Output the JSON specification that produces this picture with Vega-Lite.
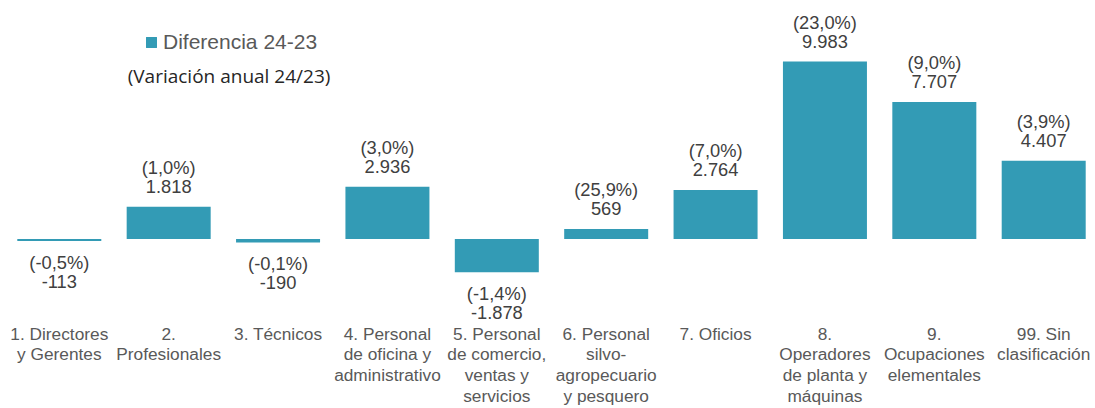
{
  "$schema": "https://vega.github.io/schema/vega-lite/v6.json",
  "width": 1087,
  "height": 315,
  "autosize": "none",
  "padding": {"left": 8, "top": 0, "right": 0, "bottom": 93},
  "background": "white",
  "data": {"values": [
    {"ocupacion": "1. Directores|y Gerentes", "dif": -113, "var": -0.5},
    {"ocupacion": "2.|Profesionales", "dif": 1818, "var": 1.0},
    {"ocupacion": "3. Técnicos", "dif": -190, "var": -0.1},
    {"ocupacion": "4. Personal|de oficina y|administrativo", "dif": 2936, "var": 3.0},
    {"ocupacion": "5. Personal|de comercio,|ventas y|servicios", "dif": -1878, "var": -1.4},
    {"ocupacion": "6. Personal|silvo-|agropecuario|y pesquero", "dif": 569, "var": 25.9},
    {"ocupacion": "7. Oficios", "dif": 2764, "var": 7.0},
    {"ocupacion": "8.|Operadores|de planta y|máquinas", "dif": 9983, "var": 23.0},
    {"ocupacion": "9.|Ocupaciones|elementales", "dif": 7707, "var": 9.0},
    {"ocupacion": "99. Sin|clasificación", "dif": 4407, "var": 3.9}
  ]},
  "transform": [
    {"calculate": "'(' + format(datum.var, '.1f') + '%)\\n' + format(datum.dif, ',')", "as": "etiqueta"}
  ],
  "encoding": {
    "x": {
      "field": "ocupacion", "type": "nominal", "sort": null,
      "scale": {"paddingInner": 0.232, "paddingOuter": 0.085},
      "axis": {
        "title": null, "labelAngle": 0, "domain": false, "ticks": false, "grid": false,
        "labelExpr": "split(datum.label, '|')",
        "labelFont": "Liberation Sans", "labelFontSize": 17.3, "labelColor": "#595959",
        "labelLineHeight": 20.7, "labelPadding": 10, "labelLimit": 300,
        "labelBaseline": "top", "labelOverlap": false
      }
    },
    "y": {
      "field": "dif", "type": "quantitative",
      "scale": {"domain": [-4277, 13450], "nice": false, "zero": false},
      "axis": null
    }
  },
  "layer": [
    {
      "mark": {"type": "bar", "strokeWidth": 0},
      "encoding": {
        "color": {
          "datum": "Diferencia 24-23", "type": "nominal",
          "scale": {"range": ["#339BB5"]},
          "legend": {
            "orient": "none", "legendX": 120, "legendY": 32,
            "title": "(Variación anual 24/23)", "titleOrient": "bottom",
            "titleFont": "Open Sans", "titleFontSize": 19, "titleFontWeight": "normal",
            "titleColor": "#262626", "titleAnchor": "middle", "titlePadding": 15, "titleLimit": 500,
            "labelFont": "Liberation Sans", "labelFontSize": 21, "labelColor": "#595959", "labelLimit": 400,
            "symbolType": "square", "symbolSize": 120, "symbolStrokeWidth": 0,
            "symbolOpacity": 1, "labelOffset": 1, "padding": 0
          }
        }
      }
    },
    {
      "transform": [{"filter": "datum.dif >= 0"}],
      "mark": {"type": "text", "font": "Liberation Sans", "fontSize": 18.3, "color": "#404040",
               "lineBreak": "\n", "lineHeight": 19, "align": "center", "baseline": "alphabetic", "dy": -33},
      "encoding": {"text": {"field": "etiqueta"}}
    },
    {
      "transform": [{"filter": "datum.dif < 0"}],
      "mark": {"type": "text", "font": "Liberation Sans", "fontSize": 18.3, "color": "#404040",
               "lineBreak": "\n", "lineHeight": 19, "align": "center", "baseline": "top", "dy": 14},
      "encoding": {"text": {"field": "etiqueta"}}
    }
  ],
  "config": {
    "view": {"stroke": null},
    "locale": {"number": {"decimal": ",", "thousands": ".", "grouping": [3], "currency": ["", ""], "minus": "-"}}
  }
}
